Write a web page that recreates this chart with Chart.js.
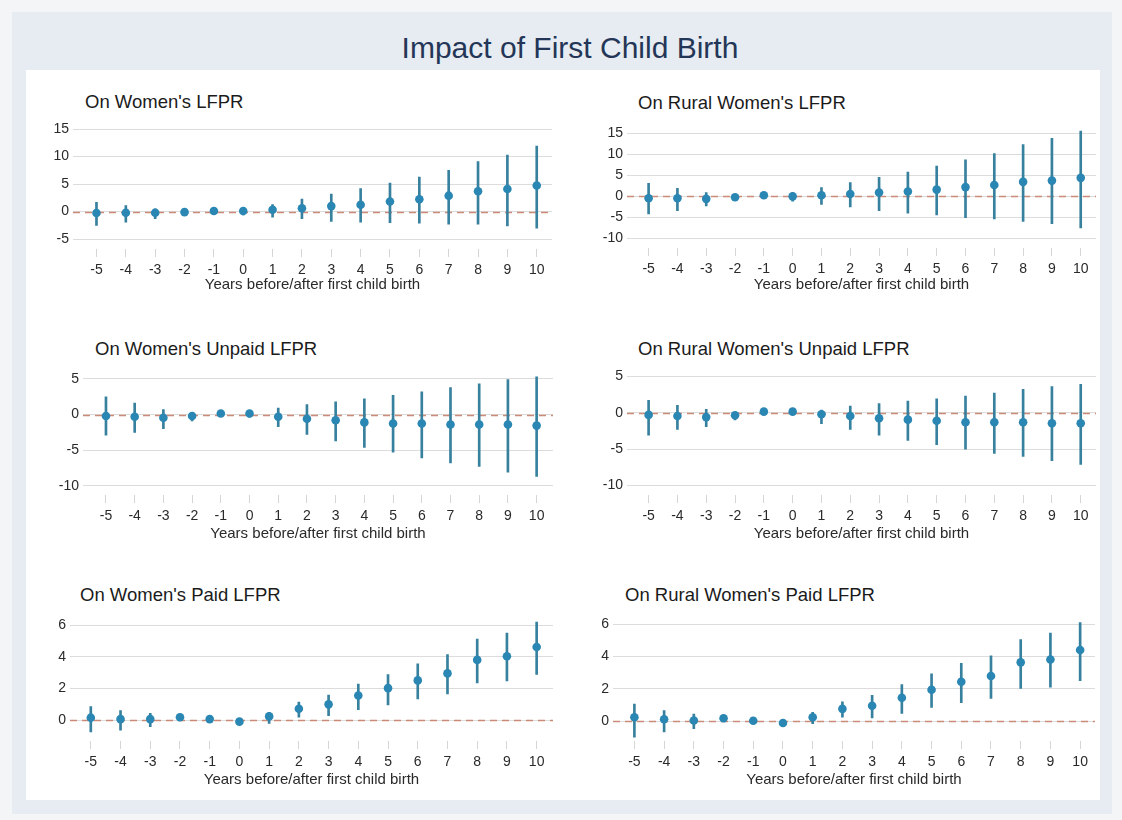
<!DOCTYPE html>
<html><head><meta charset="utf-8">
<script src="https://cdn.jsdelivr.net/npm/chart.js@4.4.1/dist/chart.umd.min.js"></script>
<style>
html,body{margin:0;padding:0;background:#f3f5f7;width:1122px;height:820px;overflow:hidden;font-family:'Liberation Sans',Arial,sans-serif;}
#frame{position:absolute;left:12px;top:12px;width:1100px;height:802px;background:#e6ecf1;}
#panel{position:absolute;left:26px;top:70px;width:1074px;height:730px;background:#fff;}
#title{position:absolute;left:320px;width:500px;top:29px;text-align:center;font-size:30px;color:#243657;line-height:38px;white-space:nowrap;}
.pt{position:absolute;font-size:18.5px;color:#1b1b1b;line-height:20px;white-space:nowrap;}
canvas{position:absolute;}
</style></head><body>
<div id="frame"></div>
<div id="panel"></div>
<div id="title">Impact of First Child Birth</div>
<div id="root"></div>
<script>
// ---------- DATA ----------
const years = [-5,-4,-3,-2,-1,0,1,2,3,4,5,6,7,8,9,10];
const xAxisTitle = "Years before/after first child birth";

const lfprTitle = "On Women's LFPR";
const lfprEst = [-0.25,-0.2,-0.2,-0.1,0.1,0.1,0.35,0.6,1.0,1.25,1.85,2.25,2.9,3.7,4.1,4.75];
const lfprLo  = [-2.5,-1.9,-1.3,-0.6,-0.35,-0.6,-1.0,-1.3,-1.8,-1.9,-2.0,-2.1,-2.3,-2.3,-2.6,-3.0];
const lfprHi  = [1.7,1.1,0.5,0.3,0.45,0.6,1.3,2.3,3.2,4.2,5.2,6.3,7.5,9.1,10.3,11.9];
const lfprTicks = [-5,0,5,10,15];

const ruralLfprTitle = "On Rural Women's LFPR";
const ruralLfprEst = [-0.45,-0.45,-0.6,-0.2,0.25,0,0.25,0.55,0.9,1.15,1.6,2.2,2.7,3.45,3.75,4.4];
const ruralLfprLo  = [-4.2,-3.4,-2.3,-0.9,-0.2,-1.15,-1.9,-2.5,-3.4,-4.0,-4.4,-5.1,-5.4,-6.0,-6.5,-7.5];
const ruralLfprHi  = [3.1,1.9,0.9,0.4,0.6,0.9,2.1,3.3,4.5,5.8,7.2,8.7,10.2,12.3,13.8,15.6];
const ruralLfprTicks = [-10,-5,0,5,10,15];

const unpaidTitle = "On Women's Unpaid LFPR";
const unpaidEst = [-0.2,-0.3,-0.45,-0.2,0.15,0.15,-0.3,-0.6,-0.8,-1.1,-1.25,-1.25,-1.4,-1.4,-1.4,-1.55];
const unpaidLo  = [-2.9,-2.5,-2.0,-0.9,-0.15,-0.35,-1.7,-2.8,-3.7,-4.6,-5.3,-6.1,-6.8,-7.3,-8.1,-8.7];
const unpaidHi  = [2.5,1.6,0.7,0.2,0.4,0.5,0.9,1.4,1.8,2.2,2.7,3.2,3.8,4.3,4.9,5.3];
const unpaidTicks = [-10,-5,0,5];

const ruralUnpaidTitle = "On Rural Women's Unpaid LFPR";
const ruralUnpaidEst = [-0.3,-0.45,-0.6,-0.35,0.15,0.15,-0.2,-0.45,-0.75,-0.95,-1.1,-1.3,-1.3,-1.3,-1.45,-1.45];
const ruralUnpaidLo  = [-3.1,-2.3,-1.9,-1.0,-0.1,-0.15,-1.5,-2.3,-3.1,-3.8,-4.4,-5.0,-5.6,-6.0,-6.6,-7.1];
const ruralUnpaidHi  = [1.7,1.0,0.45,0.0,0.35,0.4,0.35,0.9,1.25,1.6,1.9,2.3,2.7,3.2,3.6,3.9];
const ruralUnpaidTicks = [-10,-5,0,5];

const paidTitle = "On Women's Paid LFPR";
const paidEst = [0.17,0.08,0.08,0.2,0.08,-0.08,0.25,0.73,1.01,1.57,2.03,2.52,2.96,3.81,4.04,4.62];
const paidLo  = [-0.72,-0.62,-0.4,0.0,-0.05,-0.2,-0.2,0.2,0.3,0.68,0.97,1.35,1.66,2.36,2.48,2.9];
const paidHi  = [0.87,0.62,0.45,0.33,0.2,0.05,0.5,1.15,1.6,2.28,2.88,3.56,4.14,5.13,5.5,6.2];
const paidTicks = [0,2,4,6];

const ruralPaidTitle = "On Rural Women's Paid LFPR";
const ruralPaidEst = [0.24,0.12,0.04,0.18,0.02,-0.12,0.24,0.76,0.95,1.45,1.94,2.44,2.79,3.64,3.82,4.4];
const ruralPaidLo  = [-1.0,-0.67,-0.46,0.0,-0.1,-0.25,-0.16,0.24,0.2,0.48,0.85,1.15,1.41,2.02,2.1,2.5];
const ruralPaidHi  = [1.05,0.65,0.44,0.33,0.15,0.0,0.55,1.2,1.6,2.26,2.93,3.58,4.04,5.05,5.45,6.1];
const ruralPaidTicks = [0,2,4,6];

// ---------- LAYOUT (plot areas in page px, axis ranges, title spots) ----------
const panels = [
  {title:lfprTitle, est:lfprEst, lo:lfprLo, hi:lfprHi, ticks:lfprTicks,
   area:{L:73,R:552,T:124,B:249}, xr:[-5.8,10.52], yr:[-6.8,15.5], H:45, tx:85, ty:92},
  {title:ruralLfprTitle, est:ruralLfprEst, lo:ruralLfprLo, hi:ruralLfprHi, ticks:ruralLfprTicks,
   area:{L:627,R:1096,T:128,B:248}, xr:[-5.75,10.53], yr:[-12.3,15.7], H:46, tx:638, ty:93},
  {title:unpaidTitle, est:unpaidEst, lo:unpaidLo, hi:unpaidHi, ticks:unpaidTicks,
   area:{L:83,R:553,T:373,B:495}, xr:[-5.8,10.57], yr:[-11.3,5.5], H:48, tx:95, ty:339},
  {title:ruralUnpaidTitle, est:ruralUnpaidEst, lo:ruralUnpaidLo, hi:ruralUnpaidHi, ticks:ruralUnpaidTicks,
   area:{L:627,R:1096,T:371,B:495}, xr:[-5.75,10.53], yr:[-11.3,5.4], H:48, tx:638, ty:339},
  {title:paidTitle, est:paidEst, lo:paidLo, hi:paidHi, ticks:paidTicks,
   area:{L:70,R:553,T:618,B:741}, xr:[-5.7,10.55], yr:[-1.3,6.3], H:48, tx:80, ty:585},
  {title:ruralPaidTitle, est:ruralPaidEst, lo:ruralPaidLo, hi:ruralPaidHi, ticks:ruralPaidTicks,
   area:{L:613,R:1095,T:617,B:741}, xr:[-5.72,10.5], yr:[-1.23,6.3], H:48, tx:625, ty:585}
];

const FONT = "'Liberation Sans', Arial, Helvetica, sans-serif";
const WY = 45, PT = 10, PR = 6, PB = 2;

const zeroLine = {
  id:'zeroLine',
  beforeDatasetsDraw(chart){
    const {ctx, chartArea:{left,right}, scales:{y}} = chart;
    const py = Math.round(y.getPixelForValue(0)) + 0.5;
    ctx.save();
    ctx.strokeStyle = '#cc8a78';
    ctx.lineWidth = 1.6;
    ctx.setLineDash([7,5]);
    ctx.beginPath(); ctx.moveTo(left, py); ctx.lineTo(right, py); ctx.stroke();
    ctx.restore();
  }
};

const root = document.getElementById('root');
panels.forEach((p, k) => {
  const t = document.createElement('div');
  t.className = 'pt'; t.textContent = p.title;
  t.style.left = p.tx + 'px'; t.style.top = p.ty + 'px';
  root.appendChild(t);

  const a = p.area;
  const cv = document.createElement('canvas');
  const w = a.R - a.L + WY + PR, h = a.B - a.T + p.H + PT + PB;
  cv.width = w; cv.height = h;
  cv.style.left = (a.L - WY) + 'px'; cv.style.top = (a.T - PT) + 'px';
  cv.style.width = w + 'px'; cv.style.height = h + 'px';
  root.appendChild(cv);

  new Chart(cv, {
    type: 'bar',
    data: {
      datasets: [
        { type:'bar', data: years.map((x,i)=>({x:x, y:[p.lo[i], p.hi[i]]})),
          backgroundColor:'#37809e', borderWidth:0, barThickness:2, order:2 },
        { type:'scatter', data: years.map((x,i)=>({x:x, y:p.est[i]})),
          pointRadius:4.3, pointBackgroundColor:'#2a86b2', pointBorderWidth:0,
          showLine:false, order:1 }
      ]
    },
    options: {
      responsive:false, animation:false,
      layout:{padding:{top:PT, right:PR, bottom:PB, left:0}},
      plugins:{legend:{display:false}, tooltip:{enabled:false}, title:{display:false}},
      scales:{
        x:{ type:'linear', min:p.xr[0], max:p.xr[1], offset:false,
            afterBuildTicks: s => { s.ticks = years.map(v=>({value:v})); },
            afterFit: s => { s.height = p.H; },
            grid:{display:true, offset:false, drawOnChartArea:false, drawTicks:true, tickLength:8, color:'#d6d6d6'},
            border:{display:false},
            ticks:{font:{family:FONT, size:14}, color:'#2a2a2a', padding:5, maxRotation:0, autoSkip:false},
            title:{display:true, text:xAxisTitle, font:{family:FONT, size:15}, color:'#2a2a2a', padding:{top:0,bottom:0}}
        },
        y:{ type:'linear', min:p.yr[0], max:p.yr[1],
            afterBuildTicks: s => { s.ticks = p.ticks.map(v=>({value:v})); },
            afterFit: s => { s.width = WY; },
            grid:{color:'#dcdcdc', drawTicks:false, lineWidth:1},
            border:{display:false},
            ticks:{font:{family:FONT, size:14}, color:'#2a2a2a', padding:4}
        }
      }
    },
    plugins:[zeroLine]
  });
});
</script>
</body></html>
